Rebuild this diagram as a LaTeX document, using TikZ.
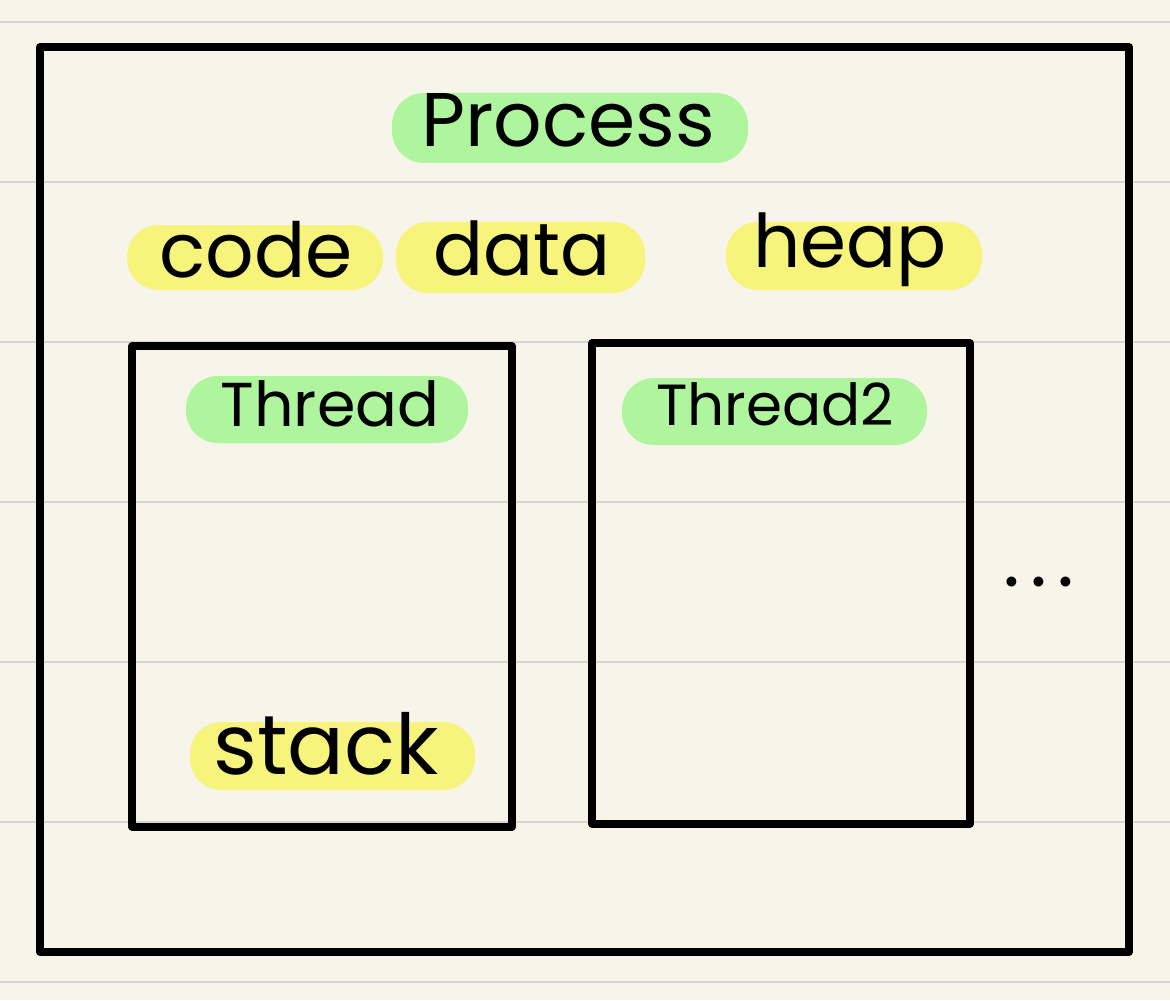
\documentclass[tikz,border=0pt]{standalone}
\usepackage{fontspec}
\setmainfont{Poppins}
\begin{document}
\begin{tikzpicture}[x=0.5pt,y=-0.5pt]
\definecolor{paper}{HTML}{F7F5EA}
\definecolor{rule}{HTML}{D6D6D2}
\definecolor{hgreen}{HTML}{AEF59E}
\definecolor{hyellow}{HTML}{F6F47A}
\tikzset{
  box/.style={draw=black, line width=3.6pt, line join=round},
  gpill/.style={fill=hgreen, rounded corners=16pt},
  ypill/.style={fill=hyellow, rounded corners=16pt},
  lbl/.style={inner sep=0pt, text=black},
}
\fill[paper] (0,0) rectangle (1170,1000);
\useasboundingbox (0,0) rectangle (1170,1000);
\foreach \y in {22,182,342,502,662,822,982}
  \draw[rule, line width=1.3pt] (0,\y) -- (1170,\y);
% outer process box
\draw[box, line width=4pt] (40,47) rectangle (1129,952);
% thread boxes
\draw[box] (132,346) rectangle (512,827);
\draw[box] (592,343) rectangle (970,824);
% highlights
\fill[gpill] (392,93) rectangle (748,163);
\fill[ypill] (127,225) rectangle (383,290);
\fill[ypill] (396,222) rectangle (645,293);
\fill[ypill] (726,222) rectangle (982,290);
\fill[gpill] (186,376) rectangle (468,443);
\fill[gpill] (622,378) rectangle (927,445);
\fill[ypill] (190,722) rectangle (475,790);
% labels
\node[lbl, font=\fontsize{38}{42}\selectfont] (process) at (568,120) {Process};
\node[lbl, font=\fontsize{38}{42}\selectfont] (code) at (256,250) {code};
\node[lbl, font=\fontsize{37}{40}\selectfont] (data) at (522,248) {data};
\node[lbl, font=\fontsize{37}{40}\selectfont] (heap) at (850,250) {heap};
\node[lbl, font=\fontsize{31}{34}\selectfont] (thread1) at (330,404) {Thread};
\node[lbl, font=\fontsize{29}{32}\selectfont] (thread2) at (775,404) {Thread2};
\node[lbl, font=\fontsize{42}{46}\selectfont] (stack) at (326,744) {stack};
\node[lbl, font=\fontsize{40}{44}\selectfont] (dots) at (1039,582) {.\hspace{5pt}.\hspace{5pt}.};
\end{tikzpicture}
\end{document}
